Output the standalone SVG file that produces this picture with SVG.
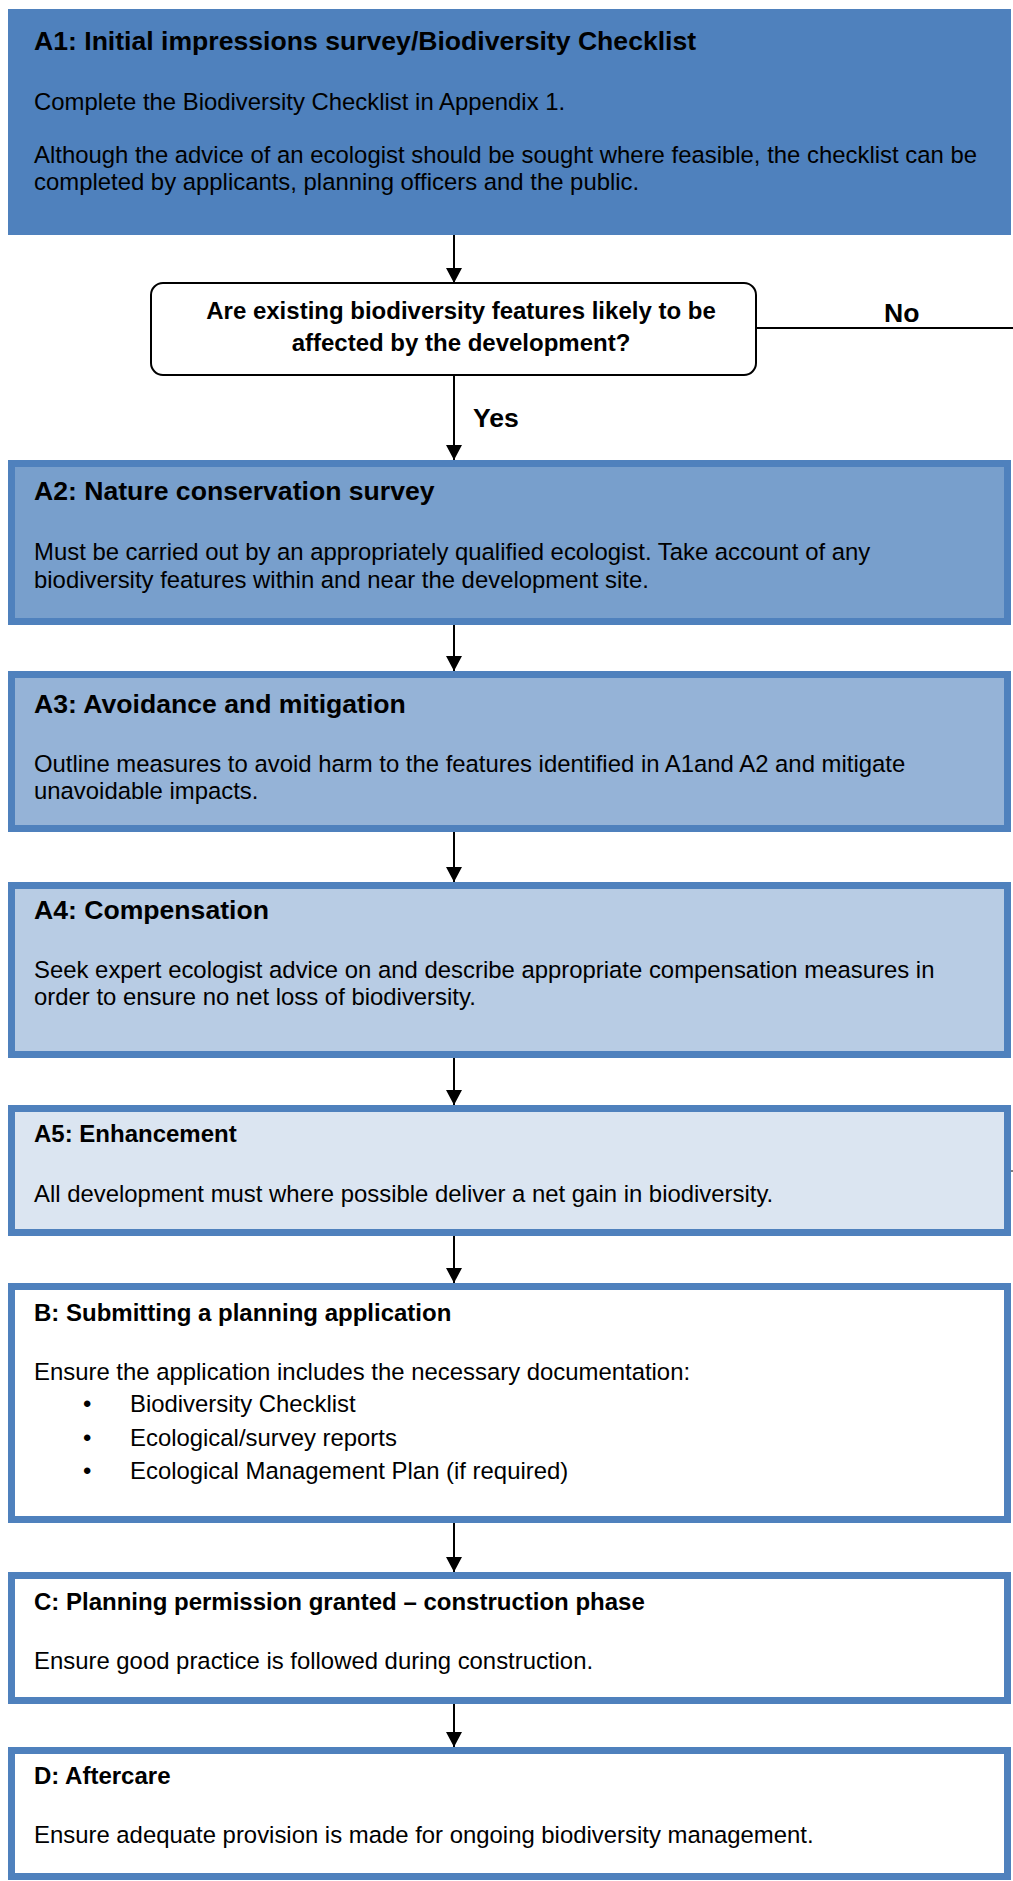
<svg xmlns="http://www.w3.org/2000/svg" width="1013" height="1881" viewBox="0 0 1013 1881">
<style>
.t{font-family:"Liberation Sans",Arial,sans-serif;fill:#000}
.h1{font-size:26.6px;font-weight:bold}
.h2{font-size:24px;font-weight:bold}
.b{font-size:23.9px}
.box{stroke:#4F81BD;stroke-width:7}
.con{stroke:#000;stroke-width:2;fill:none}
</style>
<defs>
<marker id="arr" markerUnits="userSpaceOnUse" markerWidth="16" markerHeight="16" viewBox="0 0 16 16" refX="15" refY="8" orient="auto">
<path d="M0,0 L15,8 L0,16 Z" fill="#000"/>
</marker>
</defs>
<rect width="1013" height="1881" fill="#fff"/>

<g id="A1">
<rect x="8" y="9" width="1003" height="226" fill="#4F81BD"/>
<text class="t h1" x="34" y="50">A1: Initial impressions survey/Biodiversity Checklist</text>
<text class="t b" x="34" y="110">Complete the Biodiversity Checklist in Appendix 1.</text>
<text class="t b" x="34" y="163">Although the advice of an ecologist should be sought where feasible, the checklist can be</text>
<text class="t b" x="34" y="190">completed by applicants, planning officers and the public.</text>
</g>

<g id="decision">
<rect x="151" y="283" width="605" height="92" rx="12" fill="#fff" stroke="#000" stroke-width="2"/>
<text class="t h2" x="461" y="319" text-anchor="middle">Are existing biodiversity features likely to be</text>
<text class="t h2" x="461" y="351" text-anchor="middle">affected by the development?</text>
</g>

<g id="A2">
<rect class="box" x="11.5" y="463.5" width="996" height="158" fill="#789FCC"/>
<text class="t h1" x="34" y="500">A2: Nature conservation survey</text>
<text class="t b" x="34" y="560">Must be carried out by an appropriately qualified ecologist. Take account of any</text>
<text class="t b" x="34" y="588">biodiversity features within and near the development site.</text>
</g>

<g id="A3">
<rect class="box" x="11.5" y="674.5" width="996" height="154" fill="#95B3D7"/>
<text class="t h1" x="34" y="713">A3: Avoidance and mitigation</text>
<text class="t b" x="34" y="772">Outline measures to avoid harm to the features identified in A1and A2 and mitigate</text>
<text class="t b" x="34" y="799">unavoidable impacts.</text>
</g>

<g id="A4">
<rect class="box" x="11.5" y="885.5" width="996" height="169" fill="#B8CCE4"/>
<text class="t h1" x="34" y="919">A4: Compensation</text>
<text class="t b" x="34" y="978">Seek expert ecologist advice on and describe appropriate compensation measures in</text>
<text class="t b" x="34" y="1005">order to ensure no net loss of biodiversity.</text>
</g>

<g id="A5">
<rect class="box" x="11.5" y="1108.5" width="996" height="124" fill="#DBE5F1"/>
<text class="t h2" x="34" y="1142">A5: Enhancement</text>
<text class="t b" x="34" y="1202">All development must where possible deliver a net gain in biodiversity.</text>
</g>

<g id="B">
<rect class="box" x="11.5" y="1286.5" width="996" height="233" fill="#fff"/>
<text class="t h2" x="34" y="1321">B: Submitting a planning application</text>
<text class="t b" x="34" y="1380">Ensure the application includes the necessary documentation:</text>
<text class="t b" x="83" y="1412">•</text>
<text class="t b" x="130" y="1412">Biodiversity Checklist</text>
<text class="t b" x="83" y="1446">•</text>
<text class="t b" x="130" y="1446">Ecological/survey reports</text>
<text class="t b" x="83" y="1479">•</text>
<text class="t b" x="130" y="1479">Ecological Management Plan (if required)</text>
</g>

<g id="C">
<rect class="box" x="11.5" y="1575.5" width="996" height="125" fill="#fff"/>
<text class="t h2" x="34" y="1610">C: Planning permission granted – construction phase</text>
<text class="t b" x="34" y="1669">Ensure good practice is followed during construction.</text>
</g>

<g id="D">
<rect class="box" x="11.5" y="1750.5" width="996" height="126" fill="#fff"/>
<text class="t h2" x="34" y="1784">D: Aftercare</text>
<text class="t b" x="34" y="1843">Ensure adequate provision is made for ongoing biodiversity management.</text>
</g>

<g id="connectors">
<line class="con" x1="454" y1="235" x2="454" y2="283" marker-end="url(#arr)"/>
<line class="con" x1="454" y1="375" x2="454" y2="460" marker-end="url(#arr)"/>
<line class="con" x1="454" y1="625" x2="454" y2="671" marker-end="url(#arr)"/>
<line class="con" x1="454" y1="832" x2="454" y2="882" marker-end="url(#arr)"/>
<line class="con" x1="454" y1="1058" x2="454" y2="1105" marker-end="url(#arr)"/>
<line class="con" x1="454" y1="1236" x2="454" y2="1283" marker-end="url(#arr)"/>
<line class="con" x1="454" y1="1523" x2="454" y2="1572" marker-end="url(#arr)"/>
<line class="con" x1="454" y1="1704" x2="454" y2="1747" marker-end="url(#arr)"/>
<line class="con" x1="756" y1="328" x2="1013" y2="328"/>
<line stroke="#000" stroke-width="1" x1="1011" y1="1171" x2="1013" y2="1171"/>
<text class="t h1" x="884" y="322">No</text>
<text class="t h1" x="473" y="427">Yes</text>
</g>
</svg>
